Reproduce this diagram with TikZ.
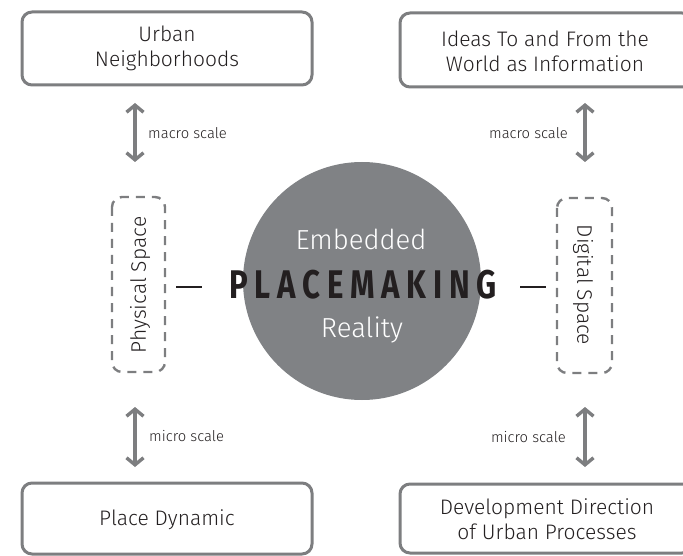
\documentclass[tikz,border=0pt]{standalone}
\usepackage{fontspec}
\setmainfont{Fira Sans Light}
\newfontfamily\pmfont[FakeStretch=0.78,LetterSpace=17]{Fira Sans Bold}
\usetikzlibrary{arrows.meta}
\definecolor{boxgray}{HTML}{7D7E80}
\definecolor{circgray}{HTML}{808285}
\definecolor{ink}{HTML}{231F20}
\begin{document}
\begin{tikzpicture}[x=1pt,y=-1pt,
  bigbox/.style={draw=boxgray,line width=3pt,rounded corners=10pt},
  dbox/.style={draw=boxgray,line width=2.4pt,dash pattern=on 9pt off 7pt,rounded corners=10pt},
  boxtext/.style={text=ink,font=\fontsize{21}{25}\selectfont,align=center},
  lbl/.style={text=ink,font=\fontsize{14.8}{16}\selectfont,inner sep=0pt},
  arr/.style={draw=boxgray,line width=3.4pt,{Straight Barb[length=7pt,width=17pt]}-{Straight Barb[length=7pt,width=17pt]}},
  tick/.style={draw=ink,line width=1.3pt}]
\path[use as bounding box] (0,0) rectangle (683,556);
\clip (0,0) rectangle (683,556);
% circle
\node[circle,fill=circgray,minimum size=238pt,inner sep=0pt] (c) at (362,281) {};
\node[text=white,font=\fontsize{27.5}{30}\selectfont] (emb) at (361,239) {Embedded};
\node[text=ink,font=\fontsize{40}{44}\pmfont,inner sep=0pt] (pm) at (363,285) {PLACEMAKING};
\node[text=white,font=\fontsize{27.5}{30}\selectfont] (real) at (362,330) {Reality};
% boxes
\draw[bigbox] (22,12) rectangle (312,85);
\node[boxtext] (un) at (167,48) {Urban\\Neighborhoods};
\draw[bigbox] (400,13) rectangle (692,87);
\node[boxtext] (ideas) at (545,51) {Ideas To and From the\\World as Information};
\draw[bigbox] (22,483) rectangle (312,554);
\node[boxtext] (pd) at (167,520) {Place Dynamic};
\draw[bigbox] (400,484) rectangle (692,553);
\node[boxtext] (dd) at (547,519) {Development Direction\\of Urban Processes};
% dashed boxes
\draw[dbox] (112,197) rectangle (165,372);
\node[text=ink,font=\fontsize{21}{25}\selectfont,rotate=90] (ps) at (140,285) {Physical Space};
\draw[dbox] (557,198) rectangle (612,373);
\node[text=ink,font=\fontsize{21}{25}\selectfont,rotate=-90] (ds) at (583,285) {Digital Space};
% ticks
\coordinate (t1a) at (176,287); \coordinate (t1b) at (202,287);
\coordinate (t2a) at (520,287); \coordinate (t2b) at (546,287);
\draw[tick] (t1a) -- (t1b);
\draw[tick] (t2a) -- (t2b);
% arrows
\coordinate (a1t) at (135,103); \coordinate (a1b) at (135,162);
\coordinate (a2t) at (585,103); \coordinate (a2b) at (585,162);
\coordinate (a3t) at (135,407); \coordinate (a3b) at (135,467);
\coordinate (a4t) at (585,407); \coordinate (a4b) at (585,467);
\draw[arr] (a1t) -- (a1b);
\draw[arr] (a2t) -- (a2b);
\draw[arr] (a3t) -- (a3b);
\draw[arr] (a4t) -- (a4b);
\node[lbl,anchor=west] (m1) at (148,133) {macro scale};
\node[lbl,anchor=east] (m2) at (568,133) {macro scale};
\node[lbl,anchor=west] (m3) at (149,436) {micro scale};
\node[lbl,anchor=east] (m4) at (566,437) {micro scale};
\end{tikzpicture}
\end{document}
